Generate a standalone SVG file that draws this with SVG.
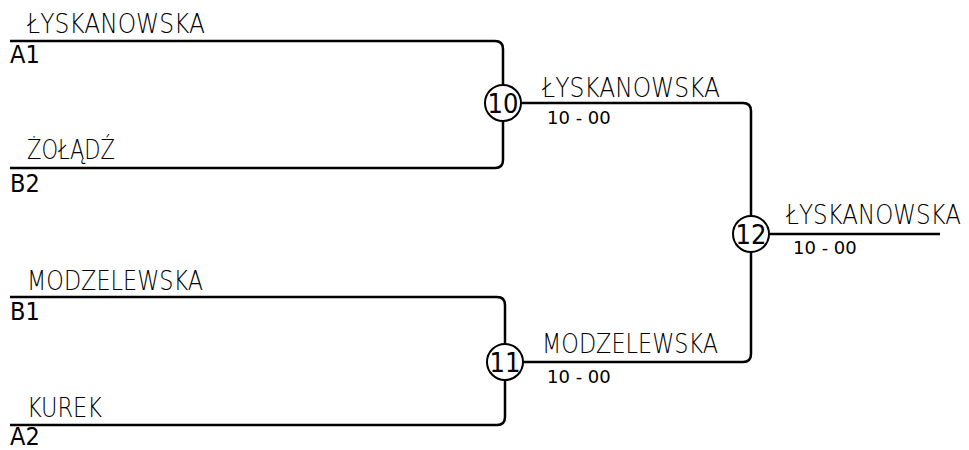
<svg xmlns="http://www.w3.org/2000/svg" width="969" height="450" viewBox="0 0 969 450">
<style>
.ln{fill:none;stroke:#000;stroke-width:2.5}
.c{fill:#fff;stroke:#000;stroke-width:2}
.nm{font-family:"DejaVu Sans",sans-serif;font-weight:200;font-size:27px;fill:#000}
.sd{font-family:"DejaVu Sans Condensed","DejaVu Sans",sans-serif;font-stretch:condensed;font-size:25px;fill:#000}
.sc{font-family:"DejaVu Sans",sans-serif;font-size:18px;fill:#000}
.num{font-family:"DejaVu Sans Condensed","DejaVu Sans",sans-serif;font-stretch:condensed;font-size:27px;fill:#000;text-anchor:middle}
</style>
<rect width="969" height="450" fill="#fff"/>
<g id="connectors">
<path class="ln" d="M10 41 H495 Q503 41 503 49 V160 Q503 168 495 168 H10"/>
<path class="ln" d="M10 297 H497 Q505 297 505 305 V417 Q505 425 497 425 H10"/>
<path class="ln" d="M503 103 H743 Q751 103 751 111 V354 Q751 362 743 362 H505"/>
<path class="ln" d="M751 234 H940"/>
</g>
<g id="p-a1"><text class="nm" x="27" y="33" textLength="178" lengthAdjust="spacingAndGlyphs">ŁYSKANOWSKA</text><text class="sd" x="10" y="63">A1</text></g>
<g id="p-b2"><text class="nm" x="27" y="159" textLength="88" lengthAdjust="spacingAndGlyphs">ŻOŁĄDŹ</text><text class="sd" x="10" y="192">B2</text></g>
<g id="p-b1"><text class="nm" x="27" y="290" textLength="176" lengthAdjust="spacingAndGlyphs">MODZELEWSKA</text><text class="sd" x="10" y="320">B1</text></g>
<g id="p-a2"><text class="nm" x="27" y="417" textLength="75" lengthAdjust="spacingAndGlyphs">KUREK</text><text class="sd" x="10" y="445">A2</text></g>
<g id="m10"><circle class="c" cx="503" cy="103" r="18"/><text class="num" x="503" y="113">10</text></g>
<g id="m11"><circle class="c" cx="505" cy="362" r="18"/><text class="num" x="505" y="372">11</text></g>
<g id="m12"><circle class="c" cx="751" cy="234" r="18"/><text class="num" x="751" y="244">12</text></g>
<g id="w10"><text class="nm" x="542" y="97" textLength="178" lengthAdjust="spacingAndGlyphs">ŁYSKANOWSKA</text><text class="sc" x="547" y="124">10 - 00</text></g>
<g id="w11"><text class="nm" x="542" y="353" textLength="176" lengthAdjust="spacingAndGlyphs">MODZELEWSKA</text><text class="sc" x="547" y="383">10 - 00</text></g>
<g id="w12"><text class="nm" x="786" y="224" textLength="175" lengthAdjust="spacingAndGlyphs">ŁYSKANOWSKA</text><text class="sc" x="793" y="254">10 - 00</text></g>
</svg>
